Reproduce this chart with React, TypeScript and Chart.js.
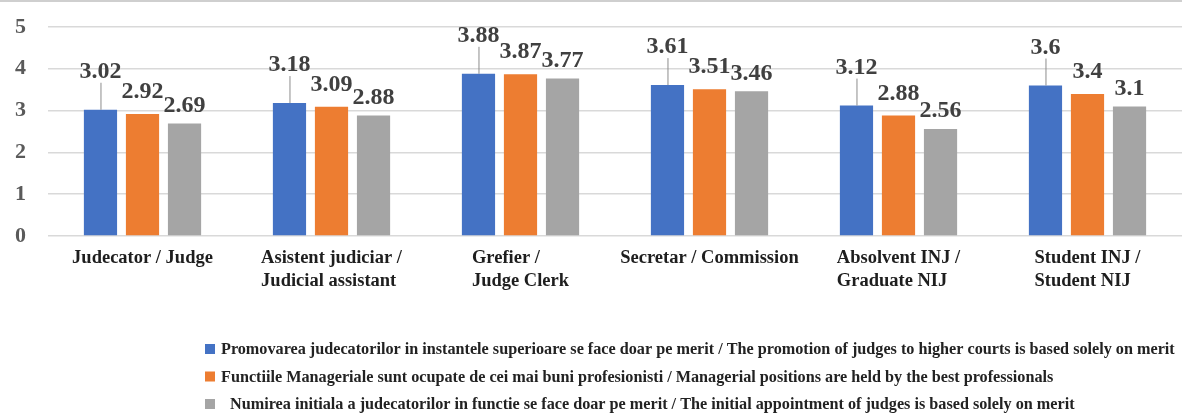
import React, { useEffect, useRef } from "react";
import { Chart, registerables } from "chart.js";

Chart.register(...registerables);

const categories: string[][] = [
  ["Judecator / Judge"],
  ["Asistent judiciar /", "Judicial assistant"],
  ["Grefier /", "Judge Clerk"],
  ["Secretar / Commission"],
  ["Absolvent INJ /", "Graduate NIJ"],
  ["Student INJ /", "Student NIJ"],
];

const promotionValues = [3.02, 3.18, 3.88, 3.61, 3.12, 3.6];
const managerialValues = [2.92, 3.09, 3.87, 3.51, 2.88, 3.4];
const appointmentValues = [2.69, 2.88, 3.77, 3.46, 2.56, 3.1];

const seriesNames = [
  "Promovarea judecatorilor in instantele superioare se face doar pe merit / The promotion of judges to higher courts is based solely on merit",
  "Functiile Manageriale sunt ocupate de cei mai buni profesionisti / Managerial positions are held by the best professionals",
  "Numirea initiala a judecatorilor in functie se face doar pe merit / The initial appointment of judges is based solely on merit",
];

const seriesColors = ["#4472C4", "#ED7D31", "#A5A5A5"];
const yTicks = [0, 1, 2, 3, 4, 5];

const SERIF = '"Liberation Serif", "DejaVu Serif", serif';

const customDraw = {
  id: "customDraw",
  afterDraw(chart: any) {
    const ctx = chart.ctx as CanvasRenderingContext2D;
    ctx.save();
    // top border line
    ctx.fillStyle = "#cfcfcf";
    ctx.fillRect(0, 0, chart.width, 2);

    // data labels
    const offsets = [38, 22, 18];
    ctx.font = `bold 24px ${SERIF}`;
    ctx.textAlign = "center";
    ctx.textBaseline = "middle";
    chart.data.datasets.forEach((ds: any, di: number) => {
      const meta = chart.getDatasetMeta(di);
      meta.data.forEach((el: any, i: number) => {
        const v = ds.data[i];
        const cy = el.y - offsets[di];
        if (di === 0) {
          ctx.strokeStyle = "#8c8c8c";
          ctx.lineWidth = 1;
          ctx.beginPath();
          ctx.moveTo(el.x + 0.5, el.y);
          ctx.lineTo(el.x + 0.5, cy + 11);
          ctx.stroke();
        }
        ctx.fillStyle = "#404040";
        ctx.fillText(String(v), el.x, cy);
      });
    });

    // category labels (left-aligned block centered under group)
    const xs = chart.scales.x;
    ctx.font = `bold 18.5px ${SERIF}`;
    ctx.fillStyle = "#1e1e1e";
    ctx.textAlign = "left";
    categories.forEach((lines, i) => {
      const x = xs.getPixelForTick(i);
      const w = Math.max(...lines.map((l) => ctx.measureText(l).width));
      const left = x - w / 2;
      lines.forEach((l, li) => {
        ctx.fillText(l, left, 258 + li * 23);
      });
    });

    // legend
    ctx.font = `bold 16.2px ${SERIF}`;
    seriesNames.forEach((name, i) => {
      const cy = 349 + i * 27.5;
      ctx.fillStyle = seriesColors[i];
      ctx.fillRect(205, cy - 5, 10, 10);
      ctx.fillStyle = "#222222";
      ctx.fillText(name, i === 2 ? 230 : 221, cy + 1);
    });
    ctx.restore();
  },
};

export default function App() {
  const canvasRef = useRef<HTMLCanvasElement | null>(null);

  useEffect(() => {
    document.body.style.margin = "0";
    const canvas = canvasRef.current;
    if (!canvas) return;
    const chart = new Chart(canvas, {
      type: "bar",
      data: {
        labels: categories.map((c) => c.join(" ")),
        datasets: [
          { label: seriesNames[0], data: promotionValues, backgroundColor: seriesColors[0] },
          { label: seriesNames[1], data: managerialValues, backgroundColor: seriesColors[1] },
          { label: seriesNames[2], data: appointmentValues, backgroundColor: seriesColors[2] },
        ],
      },
      options: {
        animation: false,
        responsive: true,
        maintainAspectRatio: false,
        layout: { padding: { top: 27, left: 0, right: 0, bottom: 0 } },
        plugins: { legend: { display: false }, tooltip: { enabled: false } },
        datasets: { bar: { categoryPercentage: 0.667, barPercentage: 0.79 } },
        scales: {
          x: {
            grid: { display: false },
            border: { display: false },
            ticks: { display: false },
            afterFit: (scale: any) => {
              scale.height = 181;
            },
          },
          y: {
            min: 0,
            max: 5,
            afterBuildTicks: (scale: any) => {
              scale.ticks = yTicks.map((v) => ({ value: v }));
            },
            grid: { color: "#d9d9d9", lineWidth: 1.5, drawTicks: false },
            border: { display: false },
            ticks: {
              padding: 22,
              color: "#5a5a5a",
              font: { family: SERIF, size: 22, weight: "bold" },
            },
            afterFit: (scale: any) => {
              scale.width = 48;
              scale.paddingTop = 0;
              scale.paddingBottom = 0;
            },
          },
        },
      },
      plugins: [customDraw],
    });
    return () => chart.destroy();
  }, []);

  return (
    <div style={{ position: "relative", width: 1182, height: 417, background: "#fff" }}>
      <canvas ref={canvasRef} />
    </div>
  );
}
